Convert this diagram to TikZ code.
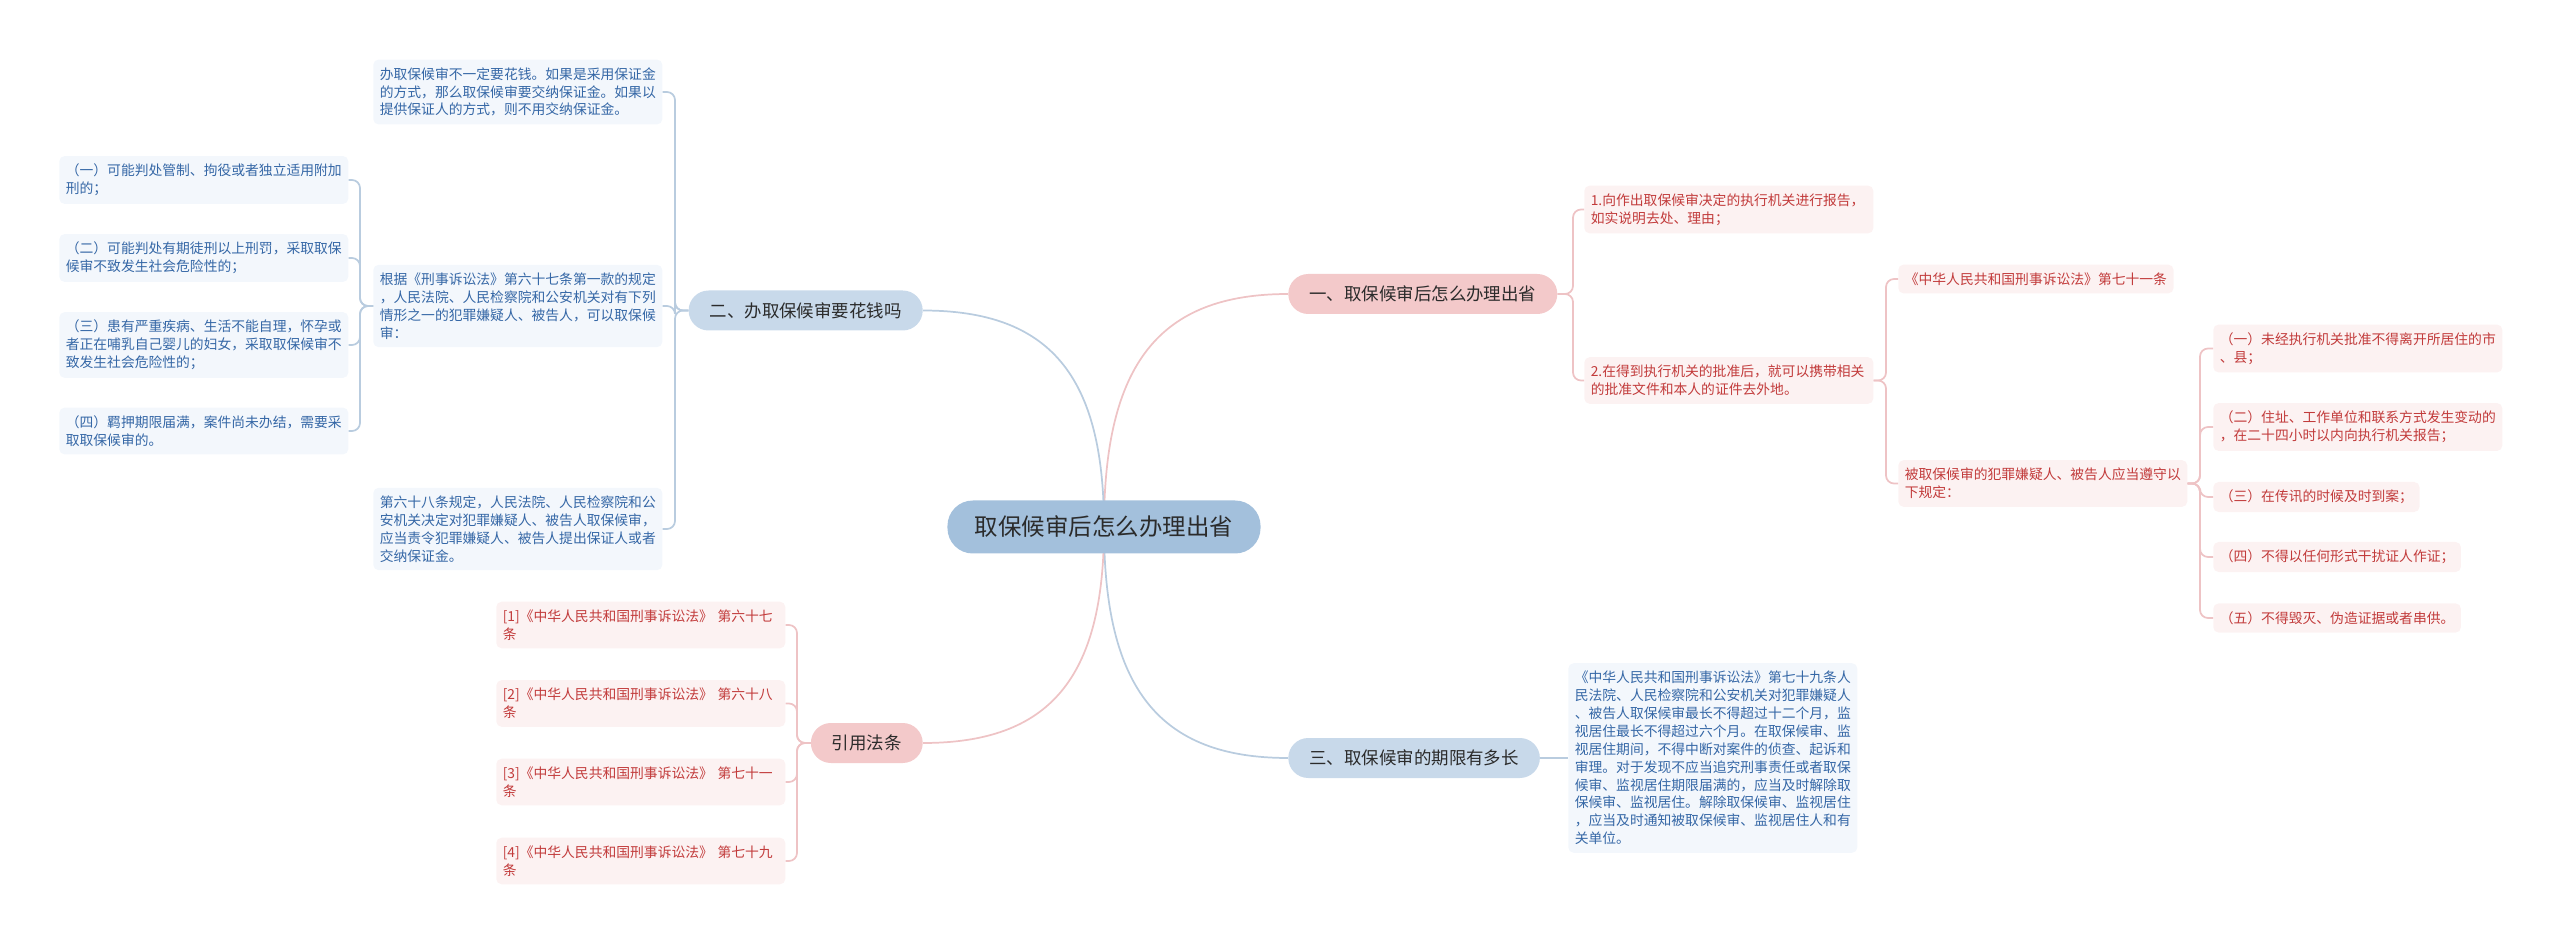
\documentclass[tikz,border=0pt]{standalone}
\usepackage{fontspec}
\setmainfont{Noto Sans CJK SC}
\usetikzlibrary{positioning, calc, backgrounds}
\definecolor{fondoRaiz}{HTML}{A3C0DC}
\definecolor{fondoRamaAzul}{HTML}{C8D9EA}
\definecolor{fondoRamaRosa}{HTML}{F3C9CA}
\definecolor{fondoHojaAzul}{HTML}{F3F7FC}
\definecolor{fondoHojaRosa}{HTML}{FCF2F2}
\definecolor{textoAzul}{HTML}{3567A6}
\definecolor{textoRojo}{HTML}{C23B3B}
\definecolor{textoOscuro}{HTML}{2B2B2B}
\definecolor{colorLineaAzul}{HTML}{B9CCDF}
\definecolor{colorLineaRosa}{HTML}{EEC3C5}

\begin{document}
\begin{tikzpicture}[x=0.75pt, y=-0.75pt,
        raiz/.style={rectangle, rounded corners=19pt, fill=fondoRaiz, text=textoOscuro, minimum height=39.75pt, inner xsep=20.6pt, font=\fontsize{17.6pt}{20pt}\selectfont},
        rama/.style={rectangle, rounded corners=15pt, minimum height=30pt, inner xsep=15.75pt, text=textoOscuro, font=\fontsize{13.1pt}{15pt}\selectfont},
        ramaazul/.style={rama, fill=fondoRamaAzul},
        ramarosa/.style={rama, fill=fondoRamaRosa},
        hoja/.style={rectangle, rounded corners=4pt, anchor=west, align=left, inner xsep=4.9pt, inner ysep=6pt, font=\fontsize{10.35pt}{13.4pt}\selectfont},
        hojaazul/.style={hoja, fill=fondoHojaAzul, text=textoAzul},
        hojarosa/.style={hoja, fill=fondoHojaRosa, text=textoRojo},
        ancha/.style={text width=207pt},
        lineaazul/.style={draw=colorLineaAzul, line width=1.3pt, rounded corners=6pt},
        linearosa/.style={draw=colorLineaRosa, line width=1.3pt, rounded corners=6pt}
    ]
        \useasboundingbox (0,0) rectangle (2560,944);

        % Nodo central
        \node[raiz] (raiz) at (1104, 527) {取保候审后怎么办理出省};

        % ---------------- RAMAS ----------------
        \node[ramarosa, anchor=west] (rama1) at (1288, 294) {一、取保候审后怎么办理出省};
        \node[ramaazul, anchor=east] (rama2) at (923, 310.5) {二、办取保候审要花钱吗};
        \node[ramaazul, anchor=west] (rama3) at (1288, 758) {三、取保候审的期限有多长};
        \node[ramarosa, anchor=east] (rama4) at (923, 743) {引用法条};

        % ---------------- RAMA 2 (izquierda arriba) ----------------
        \node[hojaazul, ancha] (costo1) at (373, 92) {办取保候审不一定要花钱。如果是采用保证金\\的方式，那么取保候审要交纳保证金。如果以\\提供保证人的方式，则不用交纳保证金。};
        \node[hojaazul, ancha] (costo2) at (373, 306) {根据《刑事诉讼法》第六十七条第一款的规定\\，人民法院、人民检察院和公安机关对有下列\\情形之一的犯罪嫌疑人、被告人，可以取保候\\审：};
        \node[hojaazul, ancha] (costo3) at (373, 529) {第六十八条规定，人民法院、人民检察院和公\\安机关决定对犯罪嫌疑人、被告人取保候审，\\应当责令犯罪嫌疑人、被告人提出保证人或者\\交纳保证金。};

        % Casos del articulo 67
        \node[hojaazul, ancha] (caso1) at (59, 180) {（一）可能判处管制、拘役或者独立适用附加\\刑的；};
        \node[hojaazul, ancha] (caso2) at (59, 258) {（二）可能判处有期徒刑以上刑罚，采取取保\\候审不致发生社会危险性的；};
        \node[hojaazul, ancha] (caso3) at (59, 345) {（三）患有严重疾病、生活不能自理，怀孕或\\者正在哺乳自己婴儿的妇女，采取取保候审不\\致发生社会危险性的；};
        \node[hojaazul, ancha] (caso4) at (59, 431) {（四）羁押期限届满，案件尚未办结，需要采\\取取保候审的。};

        % ---------------- RAMA 4 (izquierda abajo) ----------------
        \node[hojarosa, ancha] (ley1) at (496, 625) {[1]《中华人民共和国刑事诉讼法》 第六十七\\条};
        \node[hojarosa, ancha] (ley2) at (496, 703.5) {[2]《中华人民共和国刑事诉讼法》 第六十八\\条};
        \node[hojarosa, ancha] (ley3) at (496, 782) {[3]《中华人民共和国刑事诉讼法》 第七十一\\条};
        \node[hojarosa, ancha] (ley4) at (496, 861) {[4]《中华人民共和国刑事诉讼法》 第七十九\\条};

        % ---------------- RAMA 1 (derecha arriba) ----------------
        \node[hojarosa, ancha] (paso1) at (1584, 209.5) {1.向作出取保候审决定的执行机关进行报告，\\如实说明去处、理由；};
        \node[hojarosa, ancha] (paso2) at (1584, 380.5) {2.在得到执行机关的批准后，就可以携带相关\\的批准文件和本人的证件去外地。};
        \node[hojarosa] (art71) at (1898, 279) {《中华人民共和国刑事诉讼法》第七十一条};
        \node[hojarosa, ancha] (reglas) at (1898, 483.5) {被取保候审的犯罪嫌疑人、被告人应当遵守以\\下规定：};

        % Reglas a cumplir
        \node[hojarosa, ancha] (regla1) at (2213, 348.5) {（一）未经执行机关批准不得离开所居住的市\\、县；};
        \node[hojarosa, ancha] (regla2) at (2213, 427) {（二）住址、工作单位和联系方式发生变动的\\，在二十四小时以内向执行机关报告；};
        \node[hojarosa] (regla3) at (2213, 497) {（三）在传讯的时候及时到案；};
        \node[hojarosa] (regla4) at (2213, 557) {（四）不得以任何形式干扰证人作证；};
        \node[hojarosa] (regla5) at (2213, 618) {（五）不得毁灭、伪造证据或者串供。};

        % ---------------- RAMA 3 (derecha abajo) ----------------
        \node[hojaazul, ancha] (plazo) at (1568, 758) {《中华人民共和国刑事诉讼法》第七十九条人\\民法院、人民检察院和公安机关对犯罪嫌疑人\\、被告人取保候审最长不得超过十二个月，监\\视居住最长不得超过六个月。在取保候审、监\\视居住期间，不得中断对案件的侦查、起诉和\\审理。对于发现不应当追究刑事责任或者取保\\候审、监视居住期限届满的，应当及时解除取\\保候审、监视居住。解除取保候审、监视居住\\，应当及时通知被取保候审、监视居住人和有\\关单位。};

        % Puntos de quiebre de los corchetes
        \coordinate (q2) at (675, 310.5);
        \coordinate (qc) at (360, 306);
        \coordinate (q4) at (797, 743);
        \coordinate (q1) at (1573, 294);
        \coordinate (qp) at (1886, 380.5);
        \coordinate (qr) at (2200, 483.5);

        % ================= CONEXIONES =================
        \begin{scope}[on background layer]
            % Curvas desde el centro
            \draw[linearosa] (raiz.center) .. controls ($(raiz.center)!0.7!(raiz.center |- rama1.west)$) and ($(rama1.west)!0.7!(raiz.center |- rama1.west)$) .. (rama1.west);
            \draw[lineaazul] (raiz.center) .. controls ($(raiz.center)!0.7!(raiz.center |- rama2.east)$) and ($(rama2.east)!0.7!(raiz.center |- rama2.east)$) .. (rama2.east);
            \draw[lineaazul] (raiz.center) .. controls ($(raiz.center)!0.7!(raiz.center |- rama3.west)$) and ($(rama3.west)!0.7!(raiz.center |- rama3.west)$) .. (rama3.west);
            \draw[linearosa] (raiz.center) .. controls ($(raiz.center)!0.7!(raiz.center |- rama4.east)$) and ($(rama4.east)!0.7!(raiz.center |- rama4.east)$) .. (rama4.east);
        \end{scope}

        % Rama 2
        \foreach \h in {costo1, costo2, costo3}
            \draw[lineaazul] (rama2.west) -- (q2) |- (\h.east);
        \foreach \h in {caso1, caso2, caso3, caso4}
            \draw[lineaazul] (costo2.west) -- (qc) |- (\h.east);

        % Rama 4
        \foreach \h in {ley1, ley2, ley3, ley4}
            \draw[linearosa] (rama4.west) -- (q4) |- (\h.east);

        % Rama 1
        \foreach \h in {paso1, paso2}
            \draw[linearosa] (rama1.east) -- (q1) |- (\h.west);
        \foreach \h in {art71, reglas}
            \draw[linearosa] (paso2.east) -- (qp) |- (\h.west);
        \foreach \h in {regla1, regla2, regla3, regla4, regla5}
            \draw[linearosa] (reglas.east) -- (qr) |- (\h.west);

        % Rama 3
        \draw[lineaazul] (rama3.east) -- (plazo.west);

    \end{tikzpicture}
\end{document}
